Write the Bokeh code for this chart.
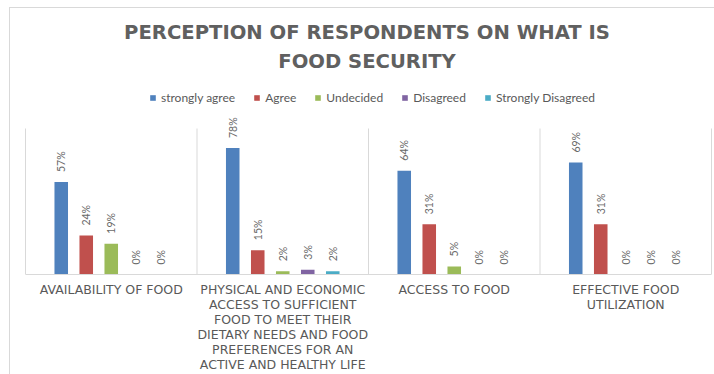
import numpy as np
from bokeh.plotting import figure
from bokeh.models import (ColumnDataSource, FixedTicker, LabelSet, Label, Legend,
                          LegendItem, Range1d)
from bokeh.transform import dodge
from bokeh.core.properties import value
from bokeh.embed import file_html
from bokeh.resources import INLINE

# ---------------- data ----------------
categories = [
    "AVAILABILITY OF FOOD",
    "PHYSICAL AND ECONOMIC\nACCESS TO SUFFICIENT\nFOOD TO MEET THEIR\nDIETARY NEEDS AND FOOD\nPREFERENCES FOR AN\nACTIVE AND HEALTHY LIFE",
    "ACCESS TO FOOD",
    "EFFECTIVE FOOD\nUTILIZATION",
]
series_names = ["strongly agree", "Agree", "Undecided", "Disagreed", "Strongly Disagreed"]
strongly_agree = [57, 78, 64, 69]
agree = [24, 15, 31, 31]
undecided = [19, 2, 5, 0]
disagreed = [0, 3, 0, 0]
strongly_disagreed = [0, 2, 0, 0]
title_line1 = "PERCEPTION OF RESPONDENTS ON WHAT IS"
title_line2 = "FOOD SECURITY"
value_axis_max = 90

series_values = [strongly_agree, agree, undecided, disagreed, strongly_disagreed]
colors = ["#4F81BD", "#C0504D", "#9BBB59", "#8064A2", "#4BACC6"]
grey = "#595959"
light = "#D9D9D9"

n = len(categories)
cat_pos = [i + 0.5 for i in range(n)]

# layout in pixels
W, H = 714, 374
frame_h = 274          # baseline position
plot_top = 128         # top of value axis area
cat_px = 171.5         # width of one category
left_px, right_px = 25, 3

p = figure(width=W, height=H,
           x_range=Range1d(-left_px / cat_px, n + right_px / cat_px),
           y_range=Range1d(0, value_axis_max * frame_h / (frame_h - plot_top)),
           output_backend="svg", toolbar_location=None, y_axis_location=None,
           min_border_left=0, min_border_right=0, min_border_top=0, min_border_bottom=10)
p.outline_line_color = None
p.background_fill_color = None
p.border_fill_color = None
p.styles = {
    "background-color": "white",
    "background-image": "linear-gradient(#D9D9D9,#D9D9D9), linear-gradient(#D9D9D9,#D9D9D9)",
    "background-size": "1px 100%, 100% 1px",
    "background-position": "9px 7px, 9px 7px",
    "background-repeat": "no-repeat",
}

p.xgrid.visible = False
p.ygrid.visible = False

# category separators
bounds = list(range(n + 1))
p.segment(x0=bounds, x1=bounds, y0=[0] * len(bounds), y1=[value_axis_max] * len(bounds),
          line_color=light, line_width=1)

p.xaxis.ticker = FixedTicker(ticks=cat_pos)
p.xaxis.major_label_overrides = {c: lab for c, lab in zip(cat_pos, categories)}
p.xaxis.bounds = (0, n)
p.xaxis.axis_line_color = light
p.xaxis.major_tick_line_color = None
p.xaxis.minor_tick_line_color = None
p.xaxis.major_label_text_font = "DejaVu Sans"
p.xaxis.major_label_text_font_size = "12.5px"
p.xaxis.major_label_text_color = grey
p.xaxis.major_label_standoff = 1
p.xaxis.major_label_text_line_height = 1.0

step = 0.1458
items = []
for i, (name, vals, col) in enumerate(zip(series_names, series_values, colors)):
    src = ColumnDataSource(dict(cat=cat_pos, top=vals, label=[f"{v}%" for v in vals]))
    off = (i - 2) * step
    r = p.vbar(x=dodge("cat", off), top="top", width=0.079, source=src,
               fill_color=col, line_color=None)
    items.append(LegendItem(label=name, renderers=[r]))
    labels = LabelSet(x=dodge("cat", off), y="top", text="label", source=src,
                      angle=np.pi / 2, text_align="left", text_baseline="middle",
                      y_offset=10, text_font=value("Lato"), text_font_size=value("10.5px"),
                      text_color="#6A6A6A")
    p.add_layout(labels)

legend = Legend(items=items, location=(149, 169), orientation="horizontal",
                glyph_width=7, glyph_height=7, label_standoff=5, spacing=18,
                padding=0, margin=0, border_line_color=None, background_fill_alpha=0,
                label_text_font="Lato", label_text_font_size="12px",
                label_text_color=grey)
p.add_layout(legend)

for txt, yy in [(title_line1, frame_h - 40 + 8), (title_line2, frame_h - 69 + 8)]:
    p.add_layout(Label(x=366.5, y=yy, x_units="screen", y_units="screen", text=txt,
                       text_align="center", text_baseline="alphabetic",
                       text_font="DejaVu Sans", text_font_style="bold",
                       text_font_size="19.6px", text_color="#606060"))

open("out.html", "w").write(file_html(p, INLINE))
